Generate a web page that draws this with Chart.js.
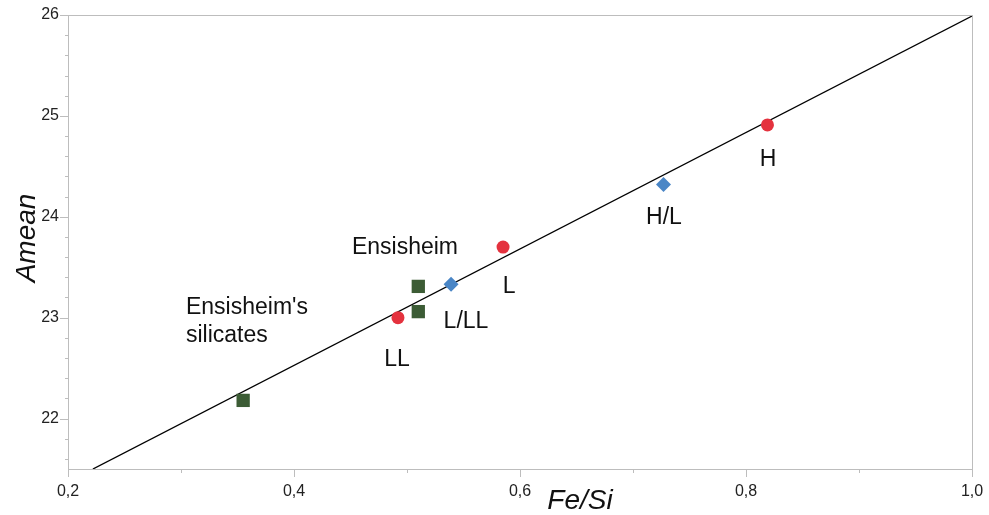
<!DOCTYPE html>
<html>
<head>
<meta charset="utf-8">
<script src="https://cdn.jsdelivr.net/npm/chart.js@4"></script>
<style>
html,body{margin:0;padding:0;background:#fff;}
#wrap{width:989px;height:515px;position:relative;}
</style>
</head>
<body>
<div id="wrap"><canvas id="c" width="989" height="515"></canvas></div>
<script>
// ---- data ----
const groupNames = ['H', 'L', 'LL'];
const groupFeSi = [0.819, 0.585, 0.492];
const groupAmean = [24.91, 23.70, 23.00];

const mixNames = ['H/L', 'L/LL'];
const mixFeSi = [0.727, 0.539];
const mixAmean = [24.32, 23.33];

const ensNames = ['Ensisheim', 'Ensisheim', "Ensisheim's silicates"];
const ensFeSi = [0.510, 0.510, 0.355];
const ensAmean = [23.31, 23.06, 22.18];

const fitFeSi = [0.222, 1.0];
const fitAmean = [21.5, 25.99];

const xTicks = [0.2, 0.4, 0.6, 0.8, 1.0];
const xMinorTicks = [0.3, 0.5, 0.7, 0.9];
const yTicks = [22, 23, 24, 25, 26];
const yMinorTicks = [21.6, 21.8, 22.2, 22.4, 22.6, 22.8, 23.2, 23.4, 23.6, 23.8, 24.2, 24.4, 24.6, 24.8, 25.2, 25.4, 25.6, 25.8];

// annotation texts (anchored in data units)
const noteTexts = ['H', 'H/L', 'L', 'L/LL', 'LL', 'Ensisheim', "Ensisheim's", 'silicates'];
const noteX = [0.8195, 0.7274, 0.5903, 0.5522, 0.4912, 0.4982, 0.3044, 0.3044];
const noteY = [24.563, 23.989, 23.305, 22.958, 22.581, 23.691, 23.096, 22.819];
const noteAlign = ['center', 'center', 'center', 'center', 'center', 'center', 'left', 'left'];

const pts = (xs, ys) => xs.map((x, i) => ({x: x, y: ys[i]}));

const FONT = "'Liberation Sans', Arial, sans-serif";

const decor = {
  id: 'decor',
  afterDraw(chart) {
    const ctx = chart.ctx;
    const a = chart.chartArea;
    const xs = chart.scales.x, ys = chart.scales.y;
    ctx.save();
    // box
    ctx.strokeStyle = '#bdbdbd';
    ctx.lineWidth = 1;
    ctx.strokeRect(Math.round(a.left) + 0.5, Math.round(a.top) + 0.5, Math.round(a.right - a.left), Math.round(a.bottom - a.top));
    // ticks
    ctx.beginPath();
    xTicks.forEach(v => { const p = Math.round(xs.getPixelForValue(v)) + 0.5; ctx.moveTo(p, a.bottom); ctx.lineTo(p, a.bottom + 8); });
    xMinorTicks.forEach(v => { const p = Math.round(xs.getPixelForValue(v)) + 0.5; ctx.moveTo(p, a.bottom); ctx.lineTo(p, a.bottom + 4); });
    yTicks.forEach(v => { const p = Math.round(ys.getPixelForValue(v)) + 0.5; ctx.moveTo(a.left, p); ctx.lineTo(a.left - 8, p); });
    yMinorTicks.forEach(v => { const p = Math.round(ys.getPixelForValue(v)) + 0.5; ctx.moveTo(a.left, p); ctx.lineTo(a.left - 3, p); });
    ctx.stroke();
    // annotations
    ctx.fillStyle = '#111';
    ctx.font = '23px ' + FONT;
    ctx.textBaseline = 'middle';
    noteTexts.forEach((t, i) => {
      ctx.textAlign = noteAlign[i];
      ctx.fillText(t, xs.getPixelForValue(noteX[i]), ys.getPixelForValue(noteY[i]));
    });
    // axis titles
    ctx.font = 'italic 28px ' + FONT;
    ctx.textAlign = 'center';
    ctx.fillText('Fe/Si', 580, 501);
    ctx.translate(27, 238);
    ctx.rotate(-Math.PI / 2);
    ctx.fillText('Amean', 0, 0);
    ctx.restore();
  }
};

new Chart(document.getElementById('c'), {
  type: 'scatter',
  data: {
    datasets: [
      {
        type: 'line',
        data: pts(fitFeSi, fitAmean),
        borderColor: '#000',
        borderWidth: 1.4,
        pointRadius: 0,
        fill: false,
        order: 5
      },
      {
        data: pts(groupFeSi, groupAmean),
        pointStyle: 'circle',
        pointRadius: 6.5,
        backgroundColor: '#e4323e',
        borderWidth: 0,
        order: 1
      },
      {
        data: pts(mixFeSi, mixAmean),
        pointStyle: 'rectRot',
        pointRadius: 7.5,
        backgroundColor: '#4a86c6',
        borderWidth: 0,
        order: 1
      },
      {
        data: pts(ensFeSi, ensAmean),
        pointStyle: 'rect',
        pointRadius: 9.4,
        backgroundColor: '#3c5c35',
        borderWidth: 0,
        order: 1
      }
    ]
  },
  options: {
    responsive: false,
    animation: false,
    devicePixelRatio: 1,
    layout: {padding: {top: 15, right: 17, left: 0, bottom: 0}},
    plugins: {legend: {display: false}, tooltip: {enabled: false}},
    scales: {
      x: {
        type: 'linear',
        min: 0.2, max: 1.0,
        afterBuildTicks: s => { s.ticks = xTicks.map(v => ({value: v})); },
        afterFit: s => { s.height = 46; s.paddingLeft = 0; s.paddingRight = 0; },
        grid: {display: false, drawTicks: false},
        border: {display: false},
        ticks: {
          padding: 13,
          color: '#222',
          font: {family: FONT, size: 16},
          callback: v => v.toFixed(1).replace('.', ',')
        }
      },
      y: {
        type: 'linear',
        min: 21.5, max: 26,
        afterBuildTicks: s => { s.ticks = yTicks.map(v => ({value: v})); },
        afterFit: s => { s.width = 68; s.paddingTop = 0; s.paddingBottom = 0; },
        grid: {display: false, drawTicks: false},
        border: {display: false},
        ticks: {
          padding: 9,
          color: '#222',
          font: {family: FONT, size: 16},
          callback: v => String(v)
        }
      }
    }
  },
  plugins: [decor]
});
</script>
</body>
</html>
